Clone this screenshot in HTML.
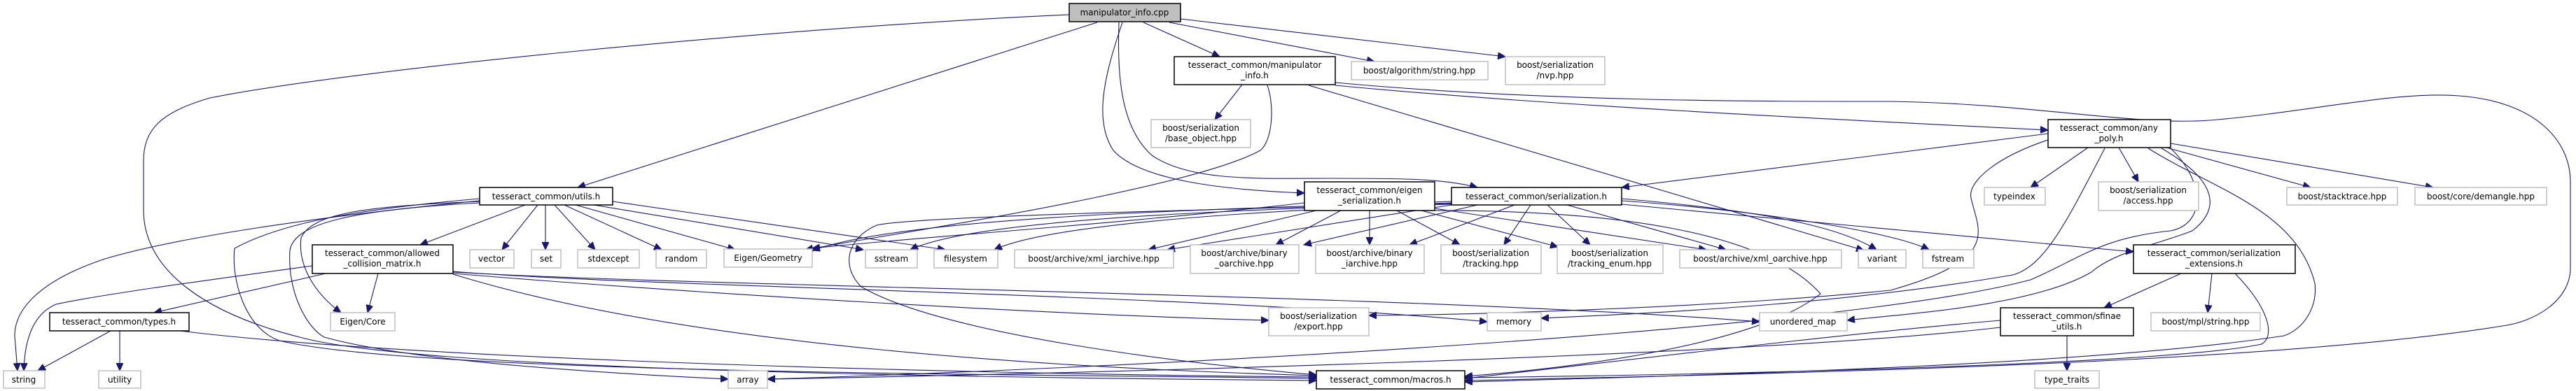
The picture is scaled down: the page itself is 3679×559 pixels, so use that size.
<!DOCTYPE html>
<html><head><meta charset="utf-8"><style>
html,body{margin:0;padding:0;background:#fff;}
svg{display:block;}
text{font-family:"DejaVu Sans","Liberation Sans",sans-serif;font-size:12px;fill:#000;text-anchor:middle;}
.g{fill:#fff;stroke:#bfbfbf;stroke-width:1.5;}
.b{fill:#fff;stroke:#000;stroke-width:1.5;}
.c{fill:#bfbfbf;stroke:#000;stroke-width:1.5;}
path.e{fill:none;stroke:#191970;stroke-width:1.1;marker-end:url(#a);}
</style></head><body>
<svg width="3679" height="559" viewBox="0 0 3679 559" xmlns="http://www.w3.org/2000/svg">
<defs><marker id="a" markerUnits="userSpaceOnUse" markerWidth="12" markerHeight="10" refX="11" refY="5" orient="auto"><path d="M0,0 L11,5 L0,10 z" fill="#191970" stroke="#191970"/></marker></defs>

<!-- edges -->
<g>
<path class="e" d="M1567,32 L825,268"/>
<path class="e" d="M1527,21 C1100,40 500,100 300,140 C230,160 205,185 205,230 L205,300 C205,390 300,450 428,482 C600,530 1400,540 1880,544"/>
<path class="e" d="M1633,32 L1742,81"/>
<path class="e" d="M1670,32 L1963,88"/>
<path class="e" d="M1686,27 L2150,81"/>
<path class="e" d="M1603,32 C1580,100 1560,170 1590,215 C1630,260 1760,272 1863,276"/>
<path class="e" d="M1598,32 C1596,100 1598,180 1645,222 C1700,260 1800,255 1900,255 C2000,255 2060,255 2110,268"/>
<path class="e" d="M1774,121 L1735,171"/>
<path class="e" d="M1810,122 C1820,150 1818,200 1800,215 C1700,270 1300,330 1150,357"/>
<path class="e" d="M1869,122 L2662,358"/>
<path class="e" d="M1907,122 C2200,150 2600,170 2925,186"/>
<path class="e" d="M1907,118 C2200,145 2500,145 2700,145 C2900,148 3050,180 3156,172 C3300,160 3420,130 3512,137 C3620,145 3671,200 3671,260 L3671,383 C3671,430 3620,460 3574,466 C3300,510 2800,530 2092,544"/>
<path class="e" d="M750,293 L600,350"/>
<path class="e" d="M768,293 L717,357"/>
<path class="e" d="M779,293 L779,357"/>
<path class="e" d="M792,293 L850,357"/>
<path class="e" d="M806,293 L945,357"/>
<path class="e" d="M822,293 L1050,357"/>
<path class="e" d="M848,293 L1233,357"/>
<path class="e" d="M875,288 L1350,357"/>
<path class="e" d="M685,287 C450,310 250,340 150,370 C60,400 21,440 21,480 L25,530"/>
<path class="e" d="M685,288 C520,295 446,305 430,340 C425,380 450,420 487,447"/>
<path class="e" d="M685,284 C500,300 400,320 335,355 C330,400 350,470 399,487 C600,535 1500,535 1880,541"/>
<path class="e" d="M685,290 C500,300 420,320 414,358 C410,420 440,470 463,482 C600,520 900,535 1040,542"/>
<path class="e" d="M158,473 L54,530"/>
<path class="e" d="M171,473 L171,530"/>
<path class="e" d="M257,473 C600,515 1400,535 1880,539"/>
<path class="e" d="M465,391 L220,447"/>
<path class="e" d="M540,391 L525,447"/>
<path class="e" d="M446,380 C300,400 150,420 80,435 C45,450 35,490 34,530"/>
<path class="e" d="M647,388 C900,410 1700,420 2124,460"/>
<path class="e" d="M647,389 C1000,410 2000,420 2513,460"/>
<path class="e" d="M647,391 C1000,420 1500,450 1812,458"/>
<path class="e" d="M647,392 C900,470 1300,520 1880,537"/>
<path class="e" d="M1863,290 C1600,320 1300,340 1160,355"/>
<path class="e" d="M1880,301 L1640,357"/>
<path class="e" d="M1915,301 L1822,350"/>
<path class="e" d="M1956,301 L1956,350"/>
<path class="e" d="M1995,301 L2085,350"/>
<path class="e" d="M2030,301 L2225,353"/>
<path class="e" d="M2049,298 L2437,357"/>
<path class="e" d="M2040,301 C2300,300 2520,330 2600,420 C2500,500 2200,530 2092,538"/>
<path class="e" d="M2073,290 C1800,300 1400,310 1300,357"/>
<path class="e" d="M2073,292 C1800,300 1500,320 1420,357"/>
<path class="e" d="M2073,293 L1667,357"/>
<path class="e" d="M2110,293 L1862,350"/>
<path class="e" d="M2163,293 L2013,350"/>
<path class="e" d="M2186,293 L2148,350"/>
<path class="e" d="M2210,293 L2271,350"/>
<path class="e" d="M2238,293 L2465,357"/>
<path class="e" d="M2316,284 C2500,300 2620,320 2680,357"/>
<path class="e" d="M2316,287 C2500,300 2700,330 2755,357"/>
<path class="e" d="M2316,292 L3047,360"/>
<path class="e" d="M2073,288 C1700,300 1300,310 1160,358"/>
<path class="e" d="M2073,291 C1700,300 1300,310 1252,322 C1210,340 1200,380 1230,410 C1350,480 1700,520 1880,536"/>
<path class="e" d="M2925,191 L2316,268"/>
<path class="e" d="M2982,211 L2900,268"/>
<path class="e" d="M3026,211 L3054,260"/>
<path class="e" d="M3094,211 L3300,268"/>
<path class="e" d="M3100,205 L3475,268"/>
<path class="e" d="M2925,200 C2850,225 2810,260 2815,283 C2825,330 2860,370 2700,415 C2450,440 2100,450 1955,451"/>
<path class="e" d="M3006,212 C2950,320 2920,380 2875,393 C2600,440 2300,450 2201,455"/>
<path class="e" d="M3087,212 C3170,260 3170,300 3131,330 C3080,350 3020,360 2987,389 C2900,440 2700,450 2638,458"/>
<path class="e" d="M3068,212 C3160,270 3280,300 3306,405 C3310,440 3290,470 3262,480 C3000,520 2500,535 2092,546"/>
<path class="e" d="M3100,212 C3150,260 3150,320 3100,330 C3000,340 2970,370 2900,400 C2600,480 1500,530 1096,542"/>
<path class="e" d="M3115,391 L3005,440"/>
<path class="e" d="M3159,391 L3153,447"/>
<path class="e" d="M3192,391 C3240,440 3250,480 3230,492 C3100,520 2500,535 2092,540"/>
<path class="e" d="M2952,480 L2952,530"/>
<path class="e" d="M2857,458 C2600,480 2200,530 2092,541"/>
<path class="e" d="M2857,468 C2500,510 1500,535 1096,542"/>
</g>

<!-- nodes -->
<rect class="c" x="1527" y="5" width="159" height="26"/><text x="1606" y="22">manipulator_info.cpp</text>
<rect class="b" x="1677" y="81" width="230" height="40"/><text x="1792" y="97">tesseract_common/manipulator</text><text x="1792" y="112">_info.h</text>
<rect class="g" x="1930" y="88" width="195" height="26"/><text x="2027" y="105">boost/algorithm/string.hpp</text>
<rect class="g" x="2150" y="81" width="142" height="40"/><text x="2221" y="97">boost/serialization</text><text x="2221" y="112">/nvp.hpp</text>
<rect class="g" x="1644" y="171" width="142" height="40"/><text x="1715" y="187">boost/serialization</text><text x="1715" y="202">/base_object.hpp</text>
<rect class="b" x="2925" y="171" width="175" height="40"/><text x="3012" y="187">tesseract_common/any</text><text x="3012" y="202">_poly.h</text>
<rect class="b" x="685" y="268" width="190" height="25"/><text x="780" y="285">tesseract_common/utils.h</text>
<rect class="b" x="1863" y="260" width="186" height="41"/><text x="1956" y="276">tesseract_common/eigen</text><text x="1956" y="291">_serialization.h</text>
<rect class="b" x="2073" y="268" width="243" height="25"/><text x="2194" y="285">tesseract_common/serialization.h</text>
<rect class="g" x="2834" y="268" width="87" height="25"/><text x="2877" y="285">typeindex</text>
<rect class="g" x="2997" y="260" width="143" height="41"/><text x="3068" y="276">boost/serialization</text><text x="3068" y="291">/access.hpp</text>
<rect class="g" x="3266" y="268" width="158" height="25"/><text x="3345" y="285">boost/stacktrace.hpp</text>
<rect class="g" x="3449" y="268" width="188" height="25"/><text x="3543" y="285">boost/core/demangle.hpp</text>
<rect class="b" x="446" y="350" width="201" height="41"/><text x="546" y="366">tesseract_common/allowed</text><text x="546" y="381">_collision_matrix.h</text>
<rect class="g" x="671" y="357" width="63" height="26"/><text x="702" y="374">vector</text>
<rect class="g" x="759" y="357" width="42" height="26"/><text x="780" y="374">set</text>
<rect class="g" x="825" y="357" width="88" height="26"/><text x="869" y="374">stdexcept</text>
<rect class="g" x="937" y="357" width="72" height="26"/><text x="973" y="374">random</text>
<rect class="g" x="1034" y="356" width="126" height="26"/><text x="1097" y="373">Eigen/Geometry</text>
<rect class="g" x="1236" y="357" width="74" height="26"/><text x="1273" y="374">sstream</text>
<rect class="g" x="1334" y="357" width="91" height="26"/><text x="1379" y="374">filesystem</text>
<rect class="g" x="1449" y="357" width="227" height="26"/><text x="1562" y="374">boost/archive/xml_iarchive.hpp</text>
<rect class="g" x="1700" y="350" width="155" height="41"/><text x="1777" y="366">boost/archive/binary</text><text x="1777" y="381">_oarchive.hpp</text>
<rect class="g" x="1879" y="350" width="155" height="41"/><text x="1956" y="366">boost/archive/binary</text><text x="1956" y="381">_iarchive.hpp</text>
<rect class="g" x="2058" y="350" width="143" height="41"/><text x="2129" y="366">boost/serialization</text><text x="2129" y="381">/tracking.hpp</text>
<rect class="g" x="2224" y="350" width="151" height="41"/><text x="2299" y="366">boost/serialization</text><text x="2299" y="381">/tracking_enum.hpp</text>
<rect class="g" x="2399" y="357" width="231" height="26"/><text x="2514" y="374">boost/archive/xml_oarchive.hpp</text>
<rect class="g" x="2654" y="357" width="68" height="26"/><text x="2688" y="374">variant</text>
<rect class="g" x="2746" y="357" width="73" height="26"/><text x="2782" y="374">fstream</text>
<rect class="b" x="3047" y="350" width="231" height="41"/><text x="3162" y="366">tesseract_common/serialization</text><text x="3162" y="381">_extensions.h</text>
<rect class="b" x="71" y="447" width="199" height="26"/><text x="170" y="464">tesseract_common/types.h</text>
<rect class="g" x="472" y="447" width="92" height="26"/><text x="518" y="464">Eigen/Core</text>
<rect class="g" x="1812" y="440" width="143" height="40"/><text x="1883" y="456">boost/serialization</text><text x="1883" y="471">/export.hpp</text>
<rect class="g" x="2124" y="447" width="77" height="26"/><text x="2162" y="464">memory</text>
<rect class="g" x="2513" y="447" width="125" height="26"/><text x="2575" y="464">unordered_map</text>
<rect class="b" x="2857" y="440" width="190" height="40"/><text x="2952" y="456">tesseract_common/sfinae</text><text x="2952" y="471">_utils.h</text>
<rect class="g" x="3072" y="447" width="156" height="26"/><text x="3150" y="464">boost/mpl/string.hpp</text>
<rect class="g" x="5" y="530" width="59" height="25"/><text x="34" y="547">string</text>
<rect class="g" x="141" y="530" width="60" height="25"/><text x="171" y="547">utility</text>
<rect class="g" x="1040" y="530" width="56" height="25"/><text x="1068" y="547">array</text>
<rect class="b" x="1880" y="530" width="212" height="26"/><text x="1986" y="547">tesseract_common/macros.h</text>
<rect class="g" x="2906" y="530" width="92" height="25"/><text x="2952" y="547">type_traits</text>
</svg>
</body></html>
